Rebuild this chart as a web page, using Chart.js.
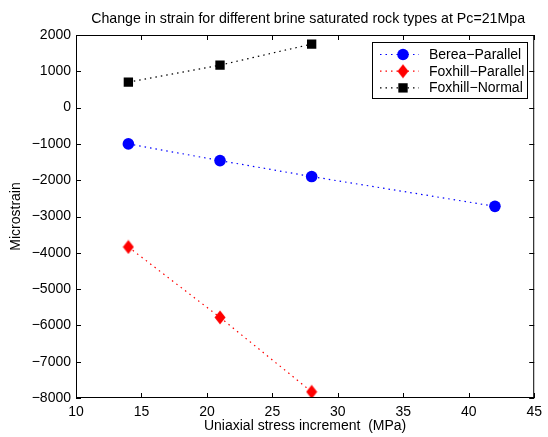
<!DOCTYPE html>
<html>
<head>
<meta charset="utf-8">
<script src="https://cdn.jsdelivr.net/npm/chart.js@4.4.1/dist/chart.umd.min.js"></script>
<style>
  html, body { margin: 0; padding: 0; background: #fff; }
  #wrap { width: 548px; height: 437px; }
</style>
</head>
<body>
<div id="wrap"><canvas id="strainChart" width="548" height="437"></canvas></div>
<script>
// stress increments (MPa) and measured strain (microstrain)
const bereaStress = [14, 21, 28, 42];
const bereaParallel = [-1000, -1460, -1900, -2720];
const foxhillStress = [14, 21, 28];
const foxhillParallel = [-3840, -5780, -7830];
const foxhillNormal = [700, 1170, 1750];

const xTicks = [10, 15, 20, 25, 30, 35, 40, 45];
const yTicks = [2000, 1000, 0, -1000, -2000, -3000, -4000, -5000, -6000, -7000, -8000];

const chartTitle = 'Change in strain for different brine saturated rock types at Pc=21Mpa';

const FONT = '"Liberation Sans", Helvetica, Arial, sans-serif';

function pairs(xs, ys) {
  return ys.map((y, i) => ({ x: xs[i], y: y }));
}

function minusSign(v) {
  return String(v).replace('-', '\u2212');
}

// tall diamond marker
function diamondMarker(color) {
  const c = document.createElement('canvas');
  c.width = 12; c.height = 15;
  const g = c.getContext('2d');
  g.fillStyle = color;
  g.beginPath();
  g.moveTo(6, 0.5);
  g.lineTo(11.5, 7.5);
  g.lineTo(6, 14.5);
  g.lineTo(0.5, 7.5);
  g.closePath();
  g.fill();
  return c;
}

// box around the axes with inward ticks on every side, title over the axes
const axesBox = {
  id: 'axesBox',
  afterDatasetsDraw(chart) {
    const { ctx, chartArea: a, scales } = chart;
    ctx.save();
    ctx.strokeStyle = '#000';
    ctx.lineWidth = 1;
    ctx.strokeRect(a.left + 0.5, a.top + 0.5, a.right - a.left - 1, a.bottom - a.top - 1);
    ctx.beginPath();
    const len = 5;
    xTicks.forEach(t => {
      const px = Math.round(scales.x.getPixelForValue(t)) + 0.5;
      ctx.moveTo(px, a.bottom); ctx.lineTo(px, a.bottom - len);
      ctx.moveTo(px, a.top); ctx.lineTo(px, a.top + len);
    });
    yTicks.forEach(t => {
      const py = Math.round(scales.y.getPixelForValue(t)) + 0.5;
      ctx.moveTo(a.left, py); ctx.lineTo(a.left + len, py);
      ctx.moveTo(a.right, py); ctx.lineTo(a.right - len, py);
    });
    ctx.stroke();

    ctx.fillStyle = '#000';
    ctx.font = '14.2px ' + FONT;
    ctx.textAlign = 'center';
    ctx.textBaseline = 'middle';
    ctx.fillText(chartTitle, (a.left + a.right) / 2 + 3, 19);
    ctx.restore();
  }
};

// legend with a dotted line sample and marker, upper right
const boxLegend = {
  id: 'boxLegend',
  afterDraw(chart) {
    const { ctx } = chart;
    const left = 372.5, top = 42.5, w = 155, h = 56;
    ctx.save();
    ctx.fillStyle = '#fff';
    ctx.fillRect(left, top, w, h);
    ctx.strokeStyle = '#000';
    ctx.lineWidth = 1;
    ctx.strokeRect(left, top, w, h);
    ctx.font = '14px ' + FONT;
    ctx.textBaseline = 'middle';
    chart.data.datasets.forEach((ds, i) => {
      const y = 54.5 + i * 16.7;
      ctx.strokeStyle = ds.borderColor;
      ctx.lineWidth = ds.borderWidth;
      ctx.setLineDash(ds.borderDash);
      ctx.beginPath();
      ctx.moveTo(380, y); ctx.lineTo(419, y);
      ctx.stroke();
      ctx.setLineDash([]);
      ctx.fillStyle = ds.backgroundColor;
      Chart.helpers.drawPoint(ctx, {
        pointStyle: ds.pointStyle, radius: ds.pointRadius, rotation: 0, borderWidth: 0
      }, 403, y);
      ctx.fillStyle = '#000';
      ctx.fillText(ds.label, 429, y + 0.5);
    });
    ctx.restore();
  }
};

const ctx = document.getElementById('strainChart').getContext('2d');

new Chart(ctx, {
  type: 'scatter',
  data: {
    datasets: [
      {
        label: 'Berea\u2212Parallel',
        data: pairs(bereaStress, bereaParallel),
        showLine: true,
        borderColor: '#0000ff',
        backgroundColor: '#0000ff',
        borderWidth: 1.2,
        borderDash: [1.5, 4],
        pointStyle: 'circle',
        pointRadius: 5.8,
        pointBorderWidth: 0
      },
      {
        label: 'Foxhill\u2212Parallel',
        data: pairs(foxhillStress, foxhillParallel),
        showLine: true,
        borderColor: '#ff0000',
        backgroundColor: '#ff0000',
        borderWidth: 1.2,
        borderDash: [1.5, 4],
        pointStyle: diamondMarker('#ff0000'),
        pointRadius: 6,
        pointBorderWidth: 0
      },
      {
        label: 'Foxhill\u2212Normal',
        data: pairs(foxhillStress, foxhillNormal),
        showLine: true,
        borderColor: '#000000',
        backgroundColor: '#000000',
        borderWidth: 1.2,
        borderDash: [1.5, 4],
        pointStyle: 'rect',
        pointRadius: 6.6,
        pointBorderWidth: 0
      }
    ]
  },
  options: {
    responsive: false,
    animation: false,
    layout: { padding: { top: 35, right: 10.5, bottom: 0, left: 0 } },
    scales: {
      x: {
        type: 'linear',
        min: 10,
        max: 45,
        afterFit: s => { s.height = 39; },
        afterBuildTicks: s => { s.ticks = xTicks.map(v => ({ value: v })); },
        grid: { display: false, drawTicks: false },
        border: { display: false },
        ticks: { color: '#000', padding: 6, font: { family: FONT, size: 14 } },
        title: {
          display: true,
          text: 'Uniaxial stress increment  (MPa)',
          color: '#000',
          font: { family: FONT, size: 14 },
          padding: { top: 0, bottom: 2.6 }
        }
      },
      y: {
        min: -8000,
        max: 2000,
        afterFit: s => { s.width = 76; },
        afterBuildTicks: s => { s.ticks = yTicks.map(v => ({ value: v })); },
        grid: { display: false, drawTicks: false },
        border: { display: false },
        ticks: {
          color: '#000',
          padding: 5,
          font: { family: FONT, size: 14 },
          callback: v => minusSign(v)
        },
        title: {
          display: true,
          text: 'Microstrain',
          color: '#000',
          font: { family: FONT, size: 14 },
          padding: { top: 7.3, bottom: 0 }
        }
      }
    },
    plugins: {
      legend: { display: false },
      tooltip: { enabled: false },
      title: { display: false }
    }
  },
  plugins: [axesBox, boxLegend]
});
</script>
</body>
</html>
